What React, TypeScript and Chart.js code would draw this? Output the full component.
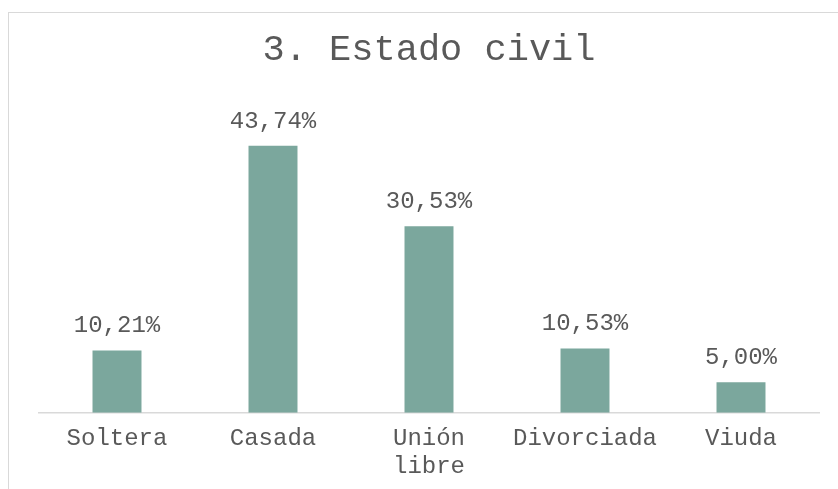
import React, { useEffect, useRef } from "react";
import { Chart, registerables } from "chart.js";

Chart.register(...registerables);

const title = "3. Estado civil";
const categories: (string | string[])[] = ["Soltera", "Casada", ["Unión", "libre"], "Divorciada", "Viuda"];
const values = [10.21, 43.74, 30.53, 10.53, 5.0];
const valueLabels = ["10,21%", "43,74%", "30,53%", "10,53%", "5,00%"];

const FONT = "'Liberation Mono', 'DejaVu Sans Mono', monospace";
const TEXT = "#595959";
const BAR = "#7BA79D";

const dataLabelPlugin = {
  id: "dataLabels",
  afterDatasetsDraw(chart: any) {
    const ctx = chart.ctx;
    const meta = chart.getDatasetMeta(0);
    ctx.save();
    ctx.font = `24px ${FONT}`;
    ctx.fillStyle = TEXT;
    ctx.textAlign = "center";
    ctx.textBaseline = "alphabetic";
    meta.data.forEach((bar: any, i: number) => {
      ctx.fillText(valueLabels[i], bar.x, bar.y - 18);
    });
    ctx.restore();
  },
};

export default function App() {
  const ref = useRef<HTMLCanvasElement>(null);
  useEffect(() => {
    if (!ref.current) return;
    const chart = new Chart(ref.current, {
      type: "bar",
      data: {
        labels: categories,
        datasets: [
          {
            data: values,
            backgroundColor: BAR,
            barPercentage: 0.314,
            categoryPercentage: 1,
          },
        ],
      },
      options: {
        responsive: false,
        animation: false,
        layout: { padding: { left: 30, right: 30, top: 0, bottom: 10 } },
        plugins: {
          legend: { display: false },
          tooltip: { enabled: false },
          title: {
            display: true,
            text: title,
            color: TEXT,
            font: { family: FONT, size: 37, weight: "normal", lineHeight: 1.2 },
            padding: { top: 15, bottom: 35 },
          },
        },
        scales: {
          x: {
            grid: { display: false, drawTicks: false },
            border: { display: true, color: "#d9d9d9", width: 1.5 },
            ticks: {
              color: TEXT,
              padding: 12,
              maxRotation: 0,
              autoSkip: false,
              font: { family: FONT, size: 24, lineHeight: 1.15 },
            },
          },
          y: {
            display: false,
            min: 0,
            max: 50,
          },
        },
      },
      plugins: [dataLabelPlugin],
    });
    return () => chart.destroy();
  }, []);

  return (
    <div style={{ position: "fixed", inset: 0, overflow: "hidden", background: "#fff" }}>
      <div
        style={{
          position: "absolute",
          left: 8,
          top: 12,
          width: 840,
          height: 500,
          border: "1px solid #d9d9d9",
          background: "#fff",
        }}
      >
        <canvas ref={ref} width={840} height={489} style={{ display: "block" }} />
      </div>
    </div>
  );
}
